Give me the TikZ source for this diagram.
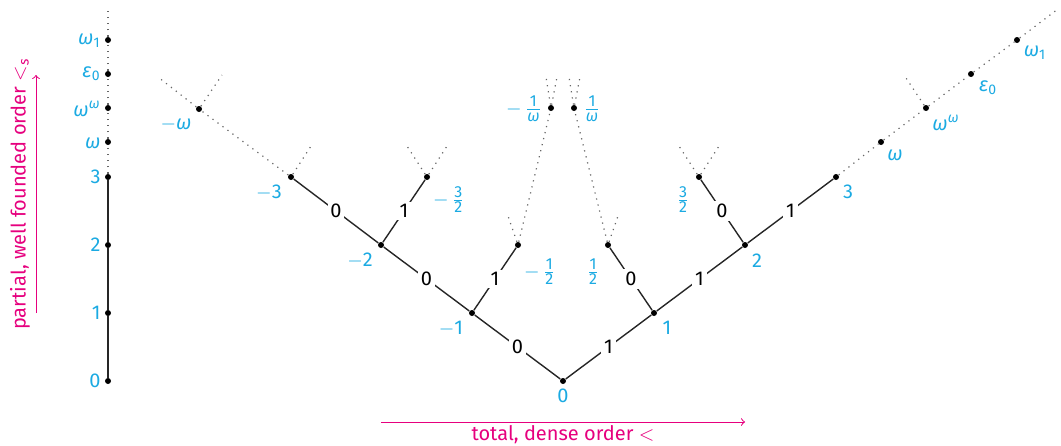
\documentclass[tikz,border=0pt]{standalone}
\usepackage{amsmath}
\usepackage{fontspec}
\setmainfont{Fira Sans}
\definecolor{lblue}{RGB}{27,170,226}
\definecolor{lpink}{RGB}{230,0,126}
% small helpers for the labels
\newcommand{\om}{\textit{ω}}
\newcommand{\eps}{\textit{ε}}
\newcommand{\mns}{$-$}
\newcommand{\fr}[2]{$\genfrac{}{}{0.4pt}{}{\text{\fontsize{8}{8}\selectfont #1}}{\text{\fontsize{8}{8}\selectfont #2}}$}
\begin{document}
\begin{tikzpicture}[x=0.5pt,y=-0.5pt,
  dot/.style={circle,fill=black,inner sep=0pt,minimum size=3pt},
  edge/.style={draw=black!85,line width=0.7pt},
  limit/.style={draw=black!60,line width=0.6pt,dash pattern=on 0.6pt off 2.5pt},
  elab/.style={fill=white,inner sep=1.4pt,text=black},
  vlab/.style={text=lblue,inner sep=0pt},
  axis/.style={draw=lpink,line width=0.5pt,->}]
\useasboundingbox (0,0) rectangle (1061,445);

% ---------- ordinal column ----------
\node[dot] (c0) at (108,381) {};
\node[dot] (c1) at (108,313) {};
\node[dot] (c2) at (108,245) {};
\node[dot] (c3) at (108,177) {};
\node[dot] (cw) at (108,142) {};
\node[dot] (cww) at (108,108) {};
\node[dot] (ce) at (108,74) {};
\node[dot] (cw1) at (108,40) {};
\coordinate (ctop) at (108,7);
\draw[edge] (c0) -- (c1) -- (c2) -- (c3);
\draw[limit] (c3) -- (cw) -- (cww) -- (ce) -- (cw1) -- (ctop);
\node[vlab,anchor=east] (lc0) at (101,381) {0};
\node[vlab,anchor=east] (lc1) at (101,313) {1};
\node[vlab,anchor=east] (lc2) at (101,245) {2};
\node[vlab,anchor=east] (lc3) at (101,177) {3};
\node[vlab,anchor=east] (lcw) at (101,143) {\om};
\node[vlab,anchor=east] (lcww) at (101,109) {\om\textsuperscript{\om}};
\node[vlab,anchor=east] (lce) at (101,74) {\eps\textsubscript{0}};
\node[vlab,anchor=east] (lcw1) at (101,41) {\om\textsubscript{1}};

\coordinate (ya) at (36,313);
\coordinate (yb) at (36,75);
\draw[axis] (ya) -- (yb);
\node[rotate=90,text=lpink,inner sep=0pt] (ylab) at (20,194)
  {partial, well founded order $<_{\text{\itshape s}}$};

% ---------- surreal tree ----------
\node[dot] (r) at (563,381) {};
\node[dot] (p1) at (654,313) {};
\node[dot] (m1) at (472,313) {};
\node[dot] (p2) at (745,245) {};
\node[dot] (m2) at (381,245) {};
\node[dot] (ph) at (608,245) {};
\node[dot] (mh) at (518,245) {};
\node[dot] (p3) at (836,177) {};
\node[dot] (m3) at (291,177) {};
\node[dot] (p32) at (699,177) {};
\node[dot] (m32) at (427,177) {};
\node[dot] (pw) at (881,142) {};
\node[dot] (pww) at (926,108) {};
\node[dot] (pe) at (971,74) {};
\node[dot] (pw1) at (1017,40) {};
\node[dot] (mw) at (199,109) {};
\node[dot] (pi) at (574,108) {};
\node[dot] (mi) at (551,108) {};

% finite part of the tree, with the sign of each step
\draw[edge] (r) -- node[elab] {0} (m1);
\draw[edge] (r) -- node[elab] {1} (p1);
\draw[edge] (m1) -- node[elab] {0} (m2);
\draw[edge] (m1) -- node[elab] {1} (mh);
\draw[edge] (p1) -- node[elab] {0} (ph);
\draw[edge] (p1) -- node[elab] {1} (p2);
\draw[edge] (m2) -- node[elab] {0} (m3);
\draw[edge] (m2) -- node[elab] {1} (m32);
\draw[edge] (p2) -- node[elab] {0} (p32);
\draw[edge] (p2) -- node[elab] {1} (p3);

% transfinite continuations
\coordinate (ptop) at (1058,9);
\coordinate (mtop) at (158,77);
\draw[limit] (p3) -- (pw) -- (pww) -- (pe) -- (pw1) -- (ptop);
\draw[limit] (m3) -- (mw) -- (mtop);
\draw[limit] (mh) -- (mi);
\draw[limit] (ph) -- (pi);

% stubs of further branches
\coordinate (s1) at (222,75);
\coordinate (s2) at (313,143);
\coordinate (s3) at (405,143);
\coordinate (s4) at (449,143);
\coordinate (s5) at (507,213);
\coordinate (s6) at (546,77);
\coordinate (s7) at (557,77);
\coordinate (s8) at (569,77);
\coordinate (s9) at (580,77);
\coordinate (s10) at (619,213);
\coordinate (s11) at (677,143);
\coordinate (s12) at (721,143);
\coordinate (s13) at (904,75);
\draw[limit] (mw) -- (s1);
\draw[limit] (m3) -- (s2);
\draw[limit] (m32) -- (s3);
\draw[limit] (m32) -- (s4);
\draw[limit] (mh) -- (s5);
\draw[limit] (mi) -- (s6);
\draw[limit] (mi) -- (s7);
\draw[limit] (pi) -- (s8);
\draw[limit] (pi) -- (s9);
\draw[limit] (ph) -- (s10);
\draw[limit] (p32) -- (s11);
\draw[limit] (p32) -- (s12);
\draw[limit] (pww) -- (s13);

% values of the nodes
\node[vlab] (lr) at (563,396) {0};
\node[vlab] (lp1) at (667,328) {1};
\node[vlab] (lm1) at (451,329) {\mns1};
\node[vlab] (lp2) at (757,261) {2};
\node[vlab] (lm2) at (360,261) {\mns2};
\node[vlab] (lp3) at (848,192) {3};
\node[vlab] (lm3) at (269,193) {\mns3};
\node[vlab] (lph) at (593,272) {\fr{1}{2}};
\node[vlab] (lmh) at (540,272) {\mns\,\fr{1}{2}};
\node[vlab] (lp32) at (683,200) {\fr{3}{2}};
\node[vlab] (lm32) at (449,200) {\mns\,\fr{3}{2}};
\node[vlab] (lpw) at (895,155) {\om};
\node[vlab] (lpww) at (946,123) {\om\textsuperscript{\om}};
\node[vlab] (lpe) at (988,88) {\eps\textsubscript{0}};
\node[vlab] (lpw1) at (1035,53) {\om\textsubscript{1}};
\node[vlab] (lmw) at (176,124) {\mns\om};
\node[vlab] (lpi) at (592,109) {\fr{1}{\om}};
\node[vlab] (lmi) at (524,109) {\mns\,\fr{1}{\om}};

\coordinate (xa) at (381,422);
\coordinate (xb) at (745,422);
\draw[axis] (xa) -- (xb);
\node[text=lpink,inner sep=0pt] (xlab) at (563,435) {total, dense order $<$};
\end{tikzpicture}
\end{document}
